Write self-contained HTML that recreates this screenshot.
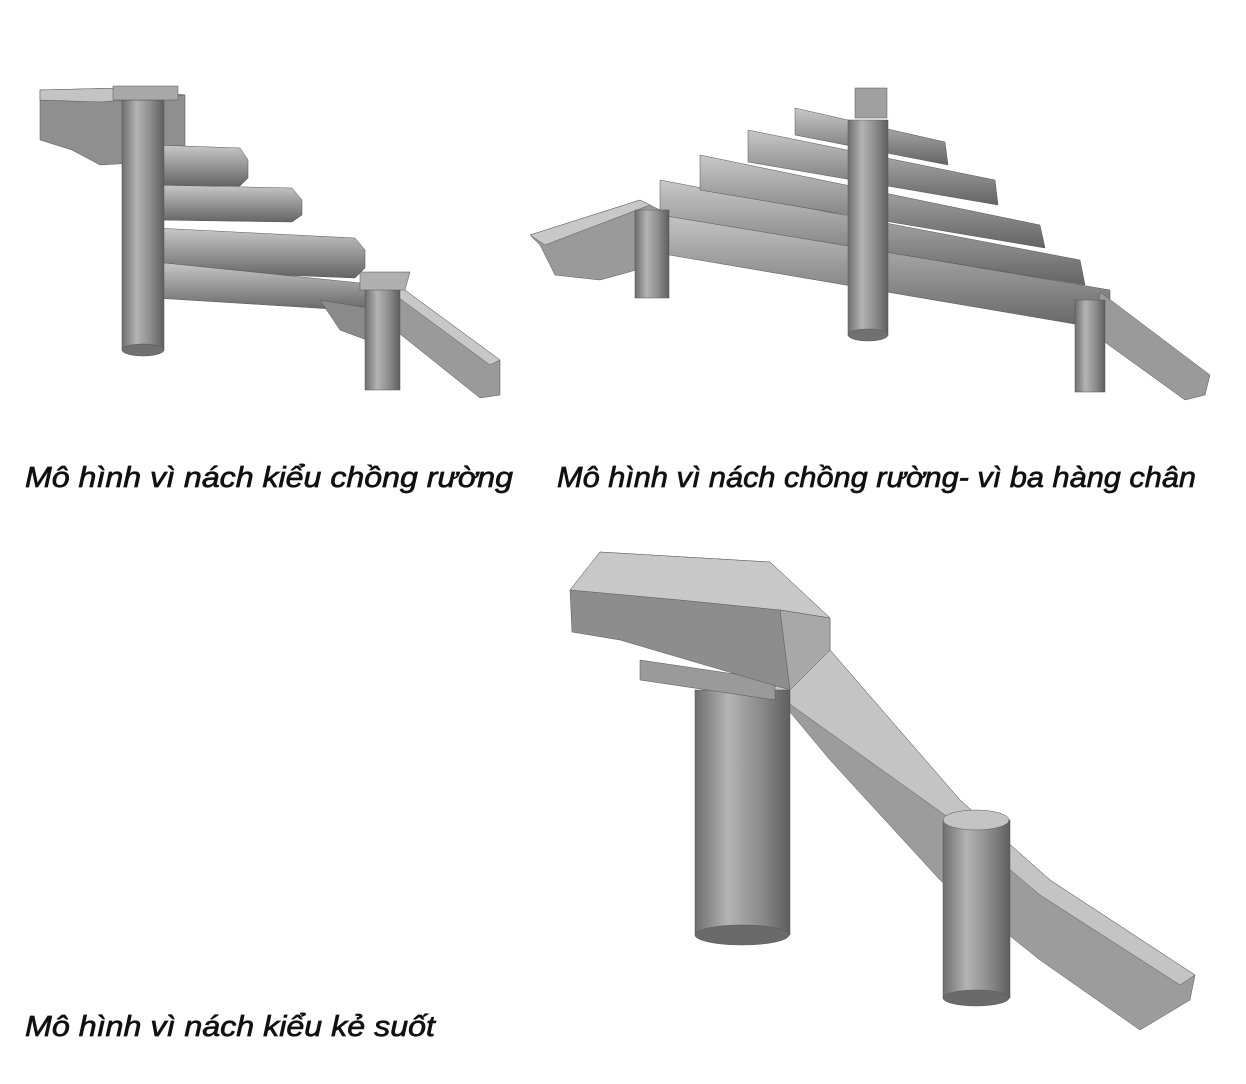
<!DOCTYPE html>
<html><head><meta charset="utf-8"><style>
html,body{margin:0;padding:0;background:#fff;}
svg{display:block;}
text{font-family:"Liberation Sans",sans-serif;font-style:italic;font-size:29px;fill:#111;stroke:#111;stroke-width:0.7;}
</style></head><body>
<svg width="1246" height="1084" viewBox="0 0 1246 1084" xmlns="http://www.w3.org/2000/svg">
<defs>
<linearGradient id="cyl" x1="0" x2="1" y1="0" y2="0">
<stop offset="0" stop-color="#6e6e6e"/><stop offset="0.35" stop-color="#b4b4b4"/><stop offset="0.7" stop-color="#8a8a8a"/><stop offset="1" stop-color="#5e5e5e"/></linearGradient>
<linearGradient id="log" x1="0" x2="0" y1="0" y2="1">
<stop offset="0" stop-color="#c8c8c8"/><stop offset="0.4" stop-color="#a0a0a0"/><stop offset="1" stop-color="#646464"/></linearGradient>
</defs>
<g stroke="#555" stroke-width="0.5">
<polygon points="40,90 120,88 185,95 185,160 100,165 72,150 40,140" fill="#8f8f8f"/>
<polygon points="40,90 120,88 185,95 100,102 40,100" fill="#c4c4c4"/>
<polygon points="155,145 240,148 248,160 248,178 240,186 155,185" fill="url(#log)"/>
<polygon points="155,185 292,188 302,200 302,215 292,222 155,220" fill="url(#log)"/>
<polygon points="155,228 355,238 365,250 365,268 355,278 155,270" fill="url(#log)"/>
<polygon points="155,262 380,285 380,312 155,298" fill="url(#log)"/>
<polygon points="320,300 380,310 380,345 340,330" fill="#8a8a8a"/>
<rect x="122" y="100" width="42" height="250" fill="url(#cyl)"/>
<ellipse cx="143" cy="350" rx="21" ry="6" fill="#707070"/>
<polygon points="113,86 178,86 178,100 113,100" fill="#a8a8a8"/>
<polygon points="398,285 500,360 500,395 480,398 395,330" fill="#9a9a9a"/>
<polygon points="398,285 500,360 490,365 395,295" fill="#c8c8c8"/>
<rect x="365" y="285" width="35" height="105" fill="url(#cyl)"/>
<polygon points="360,272 410,272 405,290 360,290" fill="#b0b0b0"/>
</g>
<g stroke="#555" stroke-width="0.5">
<polygon points="530,235 640,200 660,210 665,262 600,280 555,275 540,245" fill="#9a9a9a"/>
<polygon points="530,235 640,200 650,205 545,245" fill="#c8c8c8"/>
<polygon points="640,210 1110,290 1110,330 640,250" fill="url(#log)"/>
<polygon points="660,180 1080,260 1085,285 660,215" fill="url(#log)"/>
<polygon points="700,155 1040,225 1045,248 700,190" fill="url(#log)"/>
<polygon points="748,130 995,180 998,205 748,162" fill="url(#log)"/>
<polygon points="795,108 945,142 948,165 795,135" fill="url(#log)"/>
<rect x="855" y="88" width="32" height="30" fill="#a0a0a0"/>
<rect x="848" y="120" width="40" height="215" fill="url(#cyl)"/>
<ellipse cx="868" cy="335" rx="20" ry="6" fill="#707070"/>
<rect x="635" y="210" width="34" height="88" fill="url(#cyl)"/>
<polygon points="1100,292 1210,375 1205,395 1185,400 1095,335" fill="#9a9a9a"/>
<rect x="1075" y="300" width="30" height="92" fill="url(#cyl)"/>
</g>
<g stroke="#555" stroke-width="0.5">
<polygon points="770,690 830,650 960,800 1050,880 1195,975 1190,1000 1140,1030 1040,960 940,880 830,760 780,700" fill="#9c9c9c"/>
<polygon points="770,690 830,650 960,800 1050,880 1195,975 1180,985 1040,895 945,815" fill="#c4c4c4"/>
<rect x="695" y="690" width="95" height="245" fill="url(#cyl)"/>
<ellipse cx="742" cy="935" rx="47" ry="10" fill="#6a6a6a"/>
<polygon points="640,660 775,680 775,700 640,680" fill="#9a9a9a"/>
<polygon points="570,590 600,552 770,562 830,618 830,650 790,690 620,640 572,632" fill="#8d8d8d"/>
<polygon points="570,590 600,552 770,562 830,618 780,610 680,600" fill="#c8c8c8"/>
<polygon points="780,610 830,618 830,650 790,690" fill="#a8a8a8"/>
<rect x="943" y="820" width="67" height="178" fill="url(#cyl)"/>
<ellipse cx="976" cy="820" rx="33" ry="10" fill="#c4c4c4"/>
<ellipse cx="976" cy="998" rx="33" ry="8" fill="#6a6a6a"/>
</g>
<text x="25" y="487" textLength="488" lengthAdjust="spacingAndGlyphs">Mô hình vì nách kiểu chồng rường</text>
<text x="557" y="487" textLength="639" lengthAdjust="spacingAndGlyphs">Mô hình vì nách chồng rường- vì ba hàng chân</text>
<text x="25" y="1036" textLength="410" lengthAdjust="spacingAndGlyphs">Mô hình vì nách kiểu kẻ suốt</text>
</svg>
</body></html>
